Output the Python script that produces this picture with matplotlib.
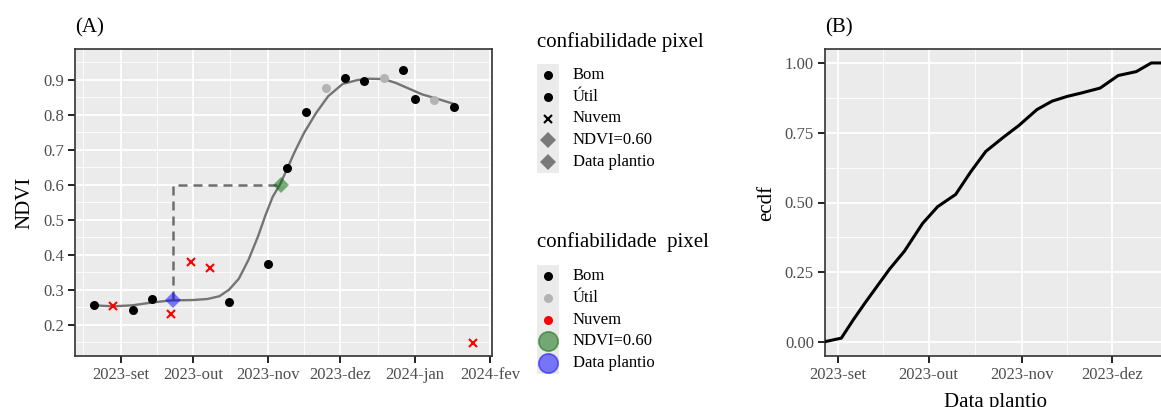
import pandas as pd
import matplotlib
matplotlib.use("Agg")
import matplotlib.pyplot as plt
import matplotlib.dates as mdates

plt.rcParams['font.family'] = ['Liberation Serif', 'DejaVu Serif']
plt.rcParams['xtick.labelsize'] = 12
plt.rcParams['ytick.labelsize'] = 12

W, H = 1161, 407

# ---- painel A: serie NDVI ----
bomDates = ['2023-08-21', '2023-09-06', '2023-09-14', '2023-10-16', '2023-11-01', '2023-11-09',
            '2023-11-17', '2023-12-03', '2023-12-11', '2023-12-27', '2024-01-01', '2024-01-17']
bomNdvi = [0.257, 0.241, 0.274, 0.265, 0.372, 0.648, 0.808, 0.905, 0.897, 0.929, 0.846, 0.823]

utilDates = ['2023-11-25', '2023-12-19', '2024-01-09']
utilNdvi = [0.877, 0.905, 0.843]

nuvemDates = ['2023-08-29', '2023-09-22', '2023-09-30', '2023-10-08', '2024-01-25']
nuvemNdvi = [0.253, 0.231, 0.378, 0.362, 0.148]

curveDates = ['2023-08-21', '2023-08-29', '2023-09-06', '2023-09-14', '2023-09-22', '2023-10-01',
              '2023-10-07', '2023-10-12', '2023-10-16', '2023-10-20', '2023-10-24', '2023-10-28',
              '2023-10-31', '2023-11-03', '2023-11-06', '2023-11-09', '2023-11-12', '2023-11-16',
              '2023-11-21', '2023-11-26', '2023-12-02', '2023-12-08', '2023-12-13', '2023-12-19',
              '2023-12-24', '2023-12-30', '2024-01-04', '2024-01-10', '2024-01-17']
curveNdvi = [0.255, 0.252, 0.255, 0.263, 0.269, 0.270,
             0.273, 0.281, 0.300, 0.331, 0.385, 0.453,
             0.512, 0.565, 0.600, 0.645, 0.692, 0.748,
             0.805, 0.853, 0.888, 0.899, 0.903, 0.902,
             0.891, 0.873, 0.858, 0.846, 0.831]

plantioDate, plantioNdvi = '2023-09-22 16:00', 0.270
limiarDate, limiarNdvi = '2023-11-06 12:00', 0.600

tickDatesA = ['2023-09-01', '2023-10-01', '2023-11-01', '2023-12-01', '2024-01-01', '2024-02-01']
tickLabelsA = ['2023-set', '2023-out', '2023-nov', '2023-dez', '2024-jan', '2024-fev']

# ---- painel B: ecdf da data de plantio ----
ecdfDates = ['2023-08-27', '2023-09-02', '2023-09-06', '2023-09-10', '2023-09-18', '2023-09-23',
             '2023-09-29', '2023-10-04', '2023-10-10', '2023-10-15', '2023-10-20', '2023-10-26',
             '2023-10-31', '2023-11-06', '2023-11-11', '2023-11-16', '2023-11-21', '2023-11-27',
             '2023-12-03', '2023-12-09', '2023-12-14', '2023-12-20']
ecdfValues = [0.000, 0.014, 0.080, 0.142, 0.261, 0.326,
              0.425, 0.485, 0.529, 0.610, 0.683, 0.735,
              0.776, 0.833, 0.863, 0.880, 0.893, 0.910,
              0.955, 0.969, 1.000, 1.000]

tickDatesB = ['2023-09-01', '2023-10-01', '2023-11-01', '2023-12-01']
tickLabelsB = ['2023-set', '2023-out', '2023-nov', '2023-dez']


def d(x):
    return mdates.date2num(pd.to_datetime(x))


def gg_style(ax):
    ax.set_facecolor('#EBEBEB')
    ax.set_axisbelow(True)
    ax.grid(which='major', color='white', lw=1.3)
    ax.grid(which='minor', color='white', lw=0.6)
    for s in ax.spines.values():
        s.set_color('#333333')
        s.set_linewidth(1.2)
    ax.tick_params(which='major', length=5, width=1.4, color='#222222',
                   labelcolor='#4D4D4D', labelsize=12, pad=3)
    ax.tick_params(which='minor', length=0)


def month_axis(ax, ticks, labels):
    pos = [d(t) for t in ticks]
    ax.set_xticks(pos)
    ax.set_xticklabels(labels)
    prev = [d(pd.to_datetime(ticks[0]) - pd.DateOffset(months=1))] + pos
    ax.set_xticks([(a + b) / 2 for a, b in zip(prev[:-1], prev[1:])], minor=True)


fig = plt.figure(figsize=(W / 100, H / 100), dpi=100)

# painel A
axA = fig.add_axes([75 / W, 1 - 356 / H, 417 / W, 307 / H])
gg_style(axA)
axA.plot([d(plantioDate), d(plantioDate), d(limiarDate)], [plantioNdvi, limiarNdvi, limiarNdvi],
         color='#6E6E6E', lw=1.8, dashes=(3.6, 2.4), zorder=2)
axA.plot([d(x) for x in curveDates], curveNdvi, color='#747474', lw=1.7, zorder=3,
         solid_joinstyle='round')
axA.plot([d(x) for x in bomDates], bomNdvi, 'o', color='black', ms=6.5, mew=0, zorder=4)
axA.plot([d(x) for x in utilDates], utilNdvi, 'o', color='#B3B3B3', ms=6.5, mew=0, zorder=4)
axA.plot([d(x) for x in nuvemDates], nuvemNdvi, 'x', color='red', ms=6, mew=1.5, zorder=4)
axA.plot(d(plantioDate), plantioNdvi, 'D', color='blue', alpha=0.5, ms=8.5, mew=0, zorder=5)
axA.plot(d(limiarDate), limiarNdvi, 'D', color='darkgreen', alpha=0.5, ms=8.5, mew=0, zorder=5)

axA.set_yticks([0.2, 0.3, 0.4, 0.5, 0.6, 0.7, 0.8, 0.9])
axA.set_yticks([0.15, 0.25, 0.35, 0.45, 0.55, 0.65, 0.75, 0.85, 0.95], minor=True)
month_axis(axA, tickDatesA, tickLabelsA)
allDates = [d(x) for x in bomDates + utilDates + nuvemDates]
x0, x1 = min(allDates), max(allDates)
axA.set_xlim(x0 - 0.05 * (x1 - x0), x1 + 0.05 * (x1 - x0))
axA.set_ylim(0.110, 0.988)
axA.set_ylabel('NDVI', fontsize=15, labelpad=6)
axA.set_title('(A)', loc='left', fontsize=15, pad=12)

# legendas
def legend_block(title, titleY, top, keys, labels):
    fig.text(537 / W, 1 - titleY / H, title, fontsize=15, va='center')
    kax = fig.add_axes([537 / W, 1 - (top + 109) / H, 22 / W, 109 / H])
    kax.set_facecolor('#EBEBEB')
    kax.set_xlim(0, 1)
    kax.set_ylim(5, 0)
    kax.set_xticks([])
    kax.set_yticks([])
    for s in kax.spines.values():
        s.set_visible(False)
    for i, (kw, lab) in enumerate(zip(keys, labels)):
        kax.plot(0.5, i + 0.5, clip_on=False, **kw)
        fig.text(573 / W, 1 - (top + (i + 0.5) * 21.8) / H, lab, fontsize=12, va='center')


legendLabels = ['Bom', 'Útil', 'Nuvem', 'NDVI=0.60', 'Data plantio']
legend_block('confiabilidade pixel', 42, 64, [
    dict(marker='o', color='black', ms=6.5, mew=0),
    dict(marker='o', color='black', ms=6.5, mew=0),
    dict(marker='x', color='black', ms=6, mew=1.5),
    dict(marker='D', color='#7A7A7A', ms=8.5, mew=0),
    dict(marker='D', color='#7A7A7A', ms=8.5, mew=0),
], legendLabels)
legend_block('confiabilidade  pixel', 242, 265, [
    dict(marker='o', color='black', ms=6.5, mew=0),
    dict(marker='o', color='#B3B3B3', ms=6.5, mew=0),
    dict(marker='o', color='red', ms=6.5, mew=0),
    dict(marker='o', color='darkgreen', alpha=0.5, ms=14, mew=1.2),
    dict(marker='o', color='blue', alpha=0.5, ms=14, mew=1.2),
], legendLabels)

# painel B
axB = fig.add_axes([825 / W, 1 - 356 / H, 341 / W, 307 / H])
gg_style(axB)
axB.plot([d(x) for x in ecdfDates], ecdfValues, color='black', lw=2.2, zorder=3)
axB.set_yticks([0, 0.25, 0.5, 0.75, 1.0])
axB.set_yticklabels(['0.00', '0.25', '0.50', '0.75', '1.00'])
axB.set_yticks([0.125, 0.375, 0.625, 0.875], minor=True)
month_axis(axB, tickDatesB, tickLabelsB)
axB.set_xlim(d('2023-08-27 14:00'), d('2023-08-27 14:00') + 341 / 3.01)
axB.set_ylim(-0.05, 1.05)
axB.set_ylabel('ecdf', fontsize=15, labelpad=6)
axB.set_xlabel('Data plantio', fontsize=15, labelpad=7)
axB.set_title('(B)', loc='left', fontsize=15, pad=12)

fig.savefig('out.png', dpi=100)
